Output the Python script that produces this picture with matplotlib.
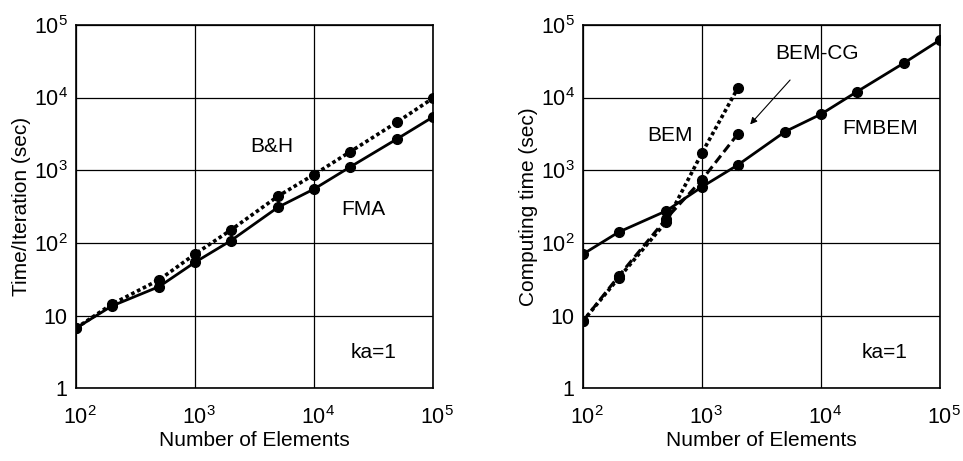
import numpy as np
import matplotlib
matplotlib.use('Agg')
import matplotlib.pyplot as plt
from matplotlib.ticker import FixedLocator, FixedFormatter, NullLocator
from matplotlib.transforms import ScaledTranslation

plt.rcParams['font.family'] = ['Liberation Sans', 'DejaVu Sans']
plt.rcParams['mathtext.fontset'] = 'custom'
plt.rcParams['mathtext.rm'] = 'Liberation Sans'
plt.rcParams['mathtext.it'] = 'Liberation Sans'

# left panel: time per iteration
n_left = [100, 200, 500, 1000, 2000, 5000, 10000, 20000, 50000, 100000]
fma = [6.7, 13.5, 25, 54, 107, 310, 550, 1100, 2700, 5400]
bh = [6.7, 14.3, 31, 70, 150, 440, 870, 1780, 4600, 9800]

# right panel: computing time
n_fmbem = [100, 200, 500, 1000, 2000, 5000, 10000, 20000, 50000, 100000]
fmbem = [70, 141, 275, 590, 1180, 3400, 5900, 12000, 30000, 62000]
n_bem = [100, 200, 500, 1000, 2000]
bem = [8.4, 33, 195, 1730, 13500]
bem_cg = [8.4, 35, 215, 740, 3150]

x_ticks = [1e2, 1e3, 1e4, 1e5]
x_labels = ['$10^2$', '$10^3$', '$10^4$', '$10^5$']
y_ticks = [1, 10, 1e2, 1e3, 1e4, 1e5]
y_labels = ['1', '10', '$10^2$', '$10^3$', '$10^4$', '$10^5$']

FS = 15

fig = plt.figure(figsize=(9.63, 4.61), dpi=100)
ax1 = fig.add_axes([0.0789, 0.158, 0.3707, 0.788])
ax2 = fig.add_axes([0.6054, 0.158, 0.3707, 0.788])


def style(ax, ylabel):
    ax.set_xscale('log')
    ax.set_yscale('log')
    ax.set_xlim(1e2, 1e5)
    ax.set_ylim(1, 1e5)
    ax.xaxis.set_major_locator(FixedLocator(x_ticks))
    ax.xaxis.set_major_formatter(FixedFormatter(x_labels))
    ax.yaxis.set_major_locator(FixedLocator(y_ticks))
    ax.yaxis.set_major_formatter(FixedFormatter(y_labels))
    ax.xaxis.set_minor_locator(NullLocator())
    ax.yaxis.set_minor_locator(NullLocator())
    ax.tick_params(length=0, labelsize=15.5)
    ax.tick_params(axis='x', pad=13)
    ax.tick_params(axis='y', pad=6)
    ax.grid(True, color='black', lw=0.9)
    for s in ax.spines.values():
        s.set_linewidth(1.2)
    ax.set_xlabel('Number of Elements', fontsize=FS, labelpad=1)
    ax.set_ylabel(ylabel, fontsize=FS, labelpad=2)
    # centre the "10" (not the whole label) on the tick
    shift = ScaledTranslation(4 / 100, 0, fig.dpi_scale_trans)
    for t in ax.xaxis.get_major_ticks(len(x_ticks)):
        t.label1.set_transform(t.label1.get_transform() + shift)


mk = dict(marker='o', markersize=7, color='black')

ax1.plot(n_left, fma, ls='-', lw=2, **mk)
ax1.plot(n_left, bh, ls=(0, (1, 0.8)), lw=2.6, **mk)
ax1.text(4400, 2100, 'B&H', fontsize=FS, ha='center', va='center')
ax1.text(2.6e4, 285, 'FMA', fontsize=FS, ha='center', va='center')
ax1.text(3.15e4, 3.1, 'ka=1', fontsize=FS, ha='center', va='center')
style(ax1, 'Time/Iteration (sec)')

ax2.plot(n_fmbem, fmbem, ls='-', lw=2, **mk)
ax2.plot(n_bem, bem, ls=(0, (1, 0.8)), lw=2.6, **mk)
ax2.plot(n_bem, bem_cg, ls=(0, (3, 1.5)), lw=2.2, **mk)
ax2.text(540, 3050, 'BEM', fontsize=FS, ha='center', va='center')
ax2.text(9300, 4.0e4, 'BEM-CG', fontsize=FS, ha='center', va='center')
ax2.text(3.15e4, 3700, 'FMBEM', fontsize=FS, ha='center', va='center')
ax2.text(3.4e4, 3.1, 'ka=1', fontsize=FS, ha='center', va='center')
ax2.annotate('', xy=(2.45e3, 4.0e3), xytext=(5.7e3, 1.86e4),
             arrowprops=dict(arrowstyle='-|>', color='black', lw=0.8,
                             mutation_scale=10))
style(ax2, 'Computing time (sec)')

fig.savefig('out.png', dpi=100)
